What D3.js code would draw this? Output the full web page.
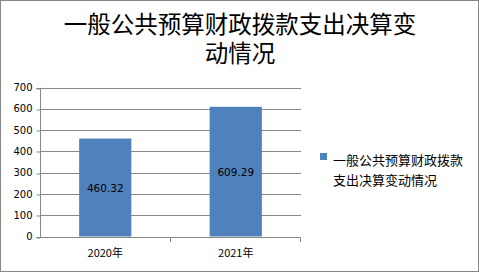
<!DOCTYPE html>
<html>
<head>
<meta charset="utf-8">
<script src="https://cdn.jsdelivr.net/npm/d3@7"></script>
<style>
  html, body { margin: 0; padding: 0; background: #fff; }
</style>
</head>
<body>
<script>
// chart data
const categories = ["2020年", "2021年"];
const values = [460.32, 609.29];
const yTicks = [0, 100, 200, 300, 400, 500, 600, 700];
const titleLines = ["一般公共预算财政拨款支出决算变", "动情况"];
const legendLines = ["一般公共预算财政拨款", "支出决算变动情况"];

const width = 479, height = 272;
const plot = { left: 40, right: 301, top: 87.5, bottom: 236.5 };
const cjk = "'Noto Sans CJK SC', 'DejaVu Sans', sans-serif";
const num = "'DejaVu Sans', sans-serif";

const svg = d3.select("body").append("svg")
    .attr("width", width)
    .attr("height", height);

// outer border
svg.append("rect")
    .attr("x", 0.5).attr("y", 0.5)
    .attr("width", width - 1).attr("height", height - 1)
    .attr("fill", "#fff")
    .attr("stroke", "#868686");

// title
svg.append("g")
    .selectAll("text")
    .data(titleLines)
    .join("text")
    .attr("x", 240)
    .attr("y", (d, i) => 32.5 + i * 29.5)
    .attr("text-anchor", "middle")
    .style("font-family", cjk)
    .style("font-size", "23.5px")
    .attr("fill", "#000")
    .text(d => d);

const x = d3.scaleBand()
    .domain(categories)
    .range([plot.left, plot.right])
    .paddingInner(0.6)
    .paddingOuter(0.3);

const y = d3.scaleLinear()
    .domain([0, 700])
    .range([plot.bottom, plot.top]);

// gridlines
svg.append("g")
    .selectAll("line")
    .data(yTicks.filter(d => d > 0))
    .join("line")
    .attr("x1", plot.left).attr("x2", plot.right)
    .attr("y1", d => Math.round(y(d)) + 0.5)
    .attr("y2", d => Math.round(y(d)) + 0.5)
    .attr("stroke", "#878787");

// bars
svg.append("g")
    .selectAll("rect")
    .data(values)
    .join("rect")
    .attr("x", (d, i) => x(categories[i]))
    .attr("width", x.bandwidth())
    .attr("y", d => y(d))
    .attr("height", d => y(0) - y(d))
    .attr("fill", "#4f81bd");

// value labels in the middle of the bars
svg.append("g")
    .selectAll("text")
    .data(values)
    .join("text")
    .attr("x", (d, i) => x(categories[i]) + x.bandwidth() / 2)
    .attr("y", d => (y(d) + y(0)) / 2 + 4)
    .attr("text-anchor", "middle")
    .style("font-family", num)
    .style("font-size", "10.5px")
    .attr("fill", "#000")
    .text(d => d.toFixed(2));

// y axis
const yAxis = svg.append("g")
    .attr("transform", `translate(${plot.left + 0.5},0)`)
    .call(d3.axisLeft(y).tickValues(yTicks).tickSize(4).tickPadding(4));
yAxis.selectAll("line, path").attr("stroke", "#878787");
yAxis.select(".domain").attr("d", `M-4,${Math.round(plot.top) + 0.5}H0V${Math.round(plot.bottom) + 0.5}H-4`);
yAxis.selectAll(".tick line").attr("transform", d => `translate(0,${Math.round(y(d)) + 0.5 - y(d)})`);
yAxis.selectAll("text")
    .style("font-family", num)
    .style("font-size", "10px")
    .attr("fill", "#000");

// x axis
const xAxis = svg.append("g")
    .attr("transform", `translate(0,${Math.round(plot.bottom) + 0.5})`)
    .call(d3.axisBottom(x).tickSize(0).tickPadding(12));
xAxis.select(".domain").attr("stroke", "#878787").attr("d", `M${plot.left},0H${plot.right}`);
xAxis.selectAll("text")
    .style("font-family", cjk)
    .style("font-size", "11px")
    .attr("fill", "#000");
// category separators
svg.append("g")
    .selectAll("line")
    .data(categories.slice(1).map(c => x(c) - x.step() * x.paddingInner() / 2).concat([plot.right]))
    .join("line")
    .attr("x1", d => Math.round(d) - 0.5).attr("x2", d => Math.round(d) - 0.5)
    .attr("y1", Math.round(plot.bottom)).attr("y2", Math.round(plot.bottom) + 5)
    .attr("stroke", "#878787");

// legend
const legend = svg.append("g");
legend.append("rect")
    .attr("x", 320).attr("y", 153)
    .attr("width", 7).attr("height", 7)
    .attr("fill", "#4f81bd");
legend.selectAll("text")
    .data(legendLines)
    .join("text")
    .attr("x", 333)
    .attr("y", (d, i) => 164.5 + i * 20)
    .style("font-family", cjk)
    .style("font-size", "13px")
    .attr("fill", "#000")
    .text(d => d);
</script>
</body>
</html>
